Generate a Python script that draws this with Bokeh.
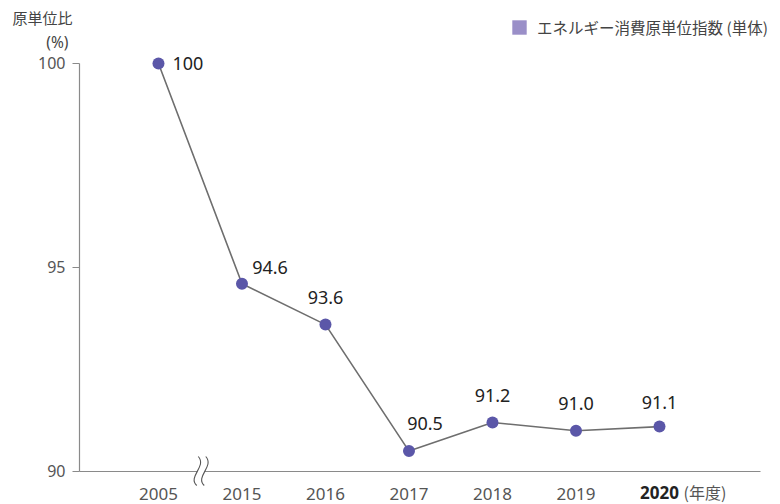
from bokeh.plotting import figure
from bokeh.models import Range1d, FixedTicker, Legend, LegendItem
from bokeh.embed import file_html
from bokeh.resources import INLINE
from bokeh.core.properties import value

# ---- data ----
years = ["2005", "2015", "2016", "2017", "2018", "2019", "2020"]
values = [100, 94.6, 93.6, 90.5, 91.2, 91.0, 91.1]
value_labels = ["100", "94.6", "93.6", "90.5", "91.2", "91.0", "91.1"]
y_ticks = [90, 95, 100]
legend_label = "エネルギー消費原単位指数 (単体)"
y_title = "原単位比"
y_unit = "(%)"
x_unit = "(年度)"
highlight_year = "2020"

xs = list(range(len(years)))
hi = years.index(highlight_year)

NUM_FONT = "Noto Sans"
JP_FONT = "Noto Sans CJK JP"

# ---- layout (frame fills the canvas, axes pinned in data space) ----
W, H = 780, 504
X_START, X_END = -1.892, 7.449
Y_START, Y_END = 89.191, 101.544
PX = (X_END - X_START) / W      # data units per pixel
PY = (Y_END - Y_START) / H
Y_AXIS_AT = -0.946              # x location of the y axis
X_AXIS_END = 7.21
Y_BASE = min(y_ticks)
Y_TOP = max(y_ticks)

# data-label offsets in pixels (first label sits to the right of its point)
label_dx = [14, 28, 0, 16, 0, 0, 0]
label_dy = [0, -16, -27, -28, -27, -27, -24]

p = figure(width=W, height=H, output_backend="svg", toolbar_location=None,
           x_range=Range1d(X_START, X_END), y_range=Range1d(Y_START, Y_END),
           min_border=0, min_border_left=0, min_border_right=0,
           min_border_top=0, min_border_bottom=0)
p.outline_line_color = None
p.grid.visible = False
p.border_fill_color = "white"
p.background_fill_color = "white"

AXIS_COLOR = "#8a8a8a"

# x axis
xa = p.xaxis[0]
xa.fixed_location = Y_BASE
xa.ticker = FixedTicker(ticks=xs)
xa.major_label_overrides = {i: ("" if y == highlight_year else y) for i, y in enumerate(years)}
xa.major_tick_line_color = None
xa.minor_tick_line_color = None
xa.axis_line_color = AXIS_COLOR
xa.axis_line_width = 1.2
xa.bounds = (Y_AXIS_AT, X_AXIS_END)
xa.major_label_text_font = NUM_FONT
xa.major_label_text_font_size = "17px"
xa.major_label_text_color = "#555555"
xa.major_label_standoff = 11

# y axis
ya = p.yaxis[0]
ya.fixed_location = Y_AXIS_AT
ya.ticker = FixedTicker(ticks=y_ticks)
ya.bounds = (Y_BASE, Y_TOP)
ya.major_tick_out = 7
ya.major_tick_in = 0
ya.minor_tick_line_color = None
ya.axis_line_color = AXIS_COLOR
ya.major_tick_line_color = AXIS_COLOR
ya.major_tick_line_width = 1.2
ya.axis_line_width = 1.2
ya.major_label_text_font = NUM_FONT
ya.major_label_text_font_size = "16px"
ya.major_label_text_color = "#555555"
ya.major_label_standoff = 7

# series
p.line(xs, values, line_color="#6e6e6e", line_width=1.6)
p.scatter(xs, values, size=12, fill_color="#5b57a8", line_color=None)

# data labels
p.text(x=xs[:1], y=values[:1], text=value_labels[:1], x_offset=label_dx[0],
       y_offset=label_dy[0], text_align="left", text_baseline="middle",
       text_font=value(NUM_FONT), text_font_size="18px", text_color="#222222")
p.text(x=xs[1:], y=values[1:], text=value_labels[1:], x_offset=label_dx[1:],
       y_offset=label_dy[1:], text_align="center", text_baseline="middle",
       text_font=value(NUM_FONT), text_font_size="18px", text_color="#222222")

# highlighted year + unit
p.text(x=[hi], y=[Y_BASE], text=[highlight_year], y_offset=21,
       text_align="center", text_baseline="middle",
       text_font=value(NUM_FONT), text_font_size="17px", text_font_style="bold",
       text_color="#222222")
p.text(x=[hi], y=[Y_BASE], text=[x_unit], y_offset=21, x_offset=24,
       text_align="left", text_baseline="middle",
       text_font=value(JP_FONT), text_font_size="16px", text_color="#555555")

# y title
p.text(x=[Y_AXIS_AT], y=[Y_TOP], text=[y_title], x_offset=-7, y_offset=-46,
       text_align="right", text_baseline="middle",
       text_font=value(JP_FONT), text_font_size="15px", text_color="#444444")
p.text(x=[Y_AXIS_AT], y=[Y_TOP], text=[y_unit], x_offset=-11, y_offset=-21,
       text_align="right", text_baseline="middle",
       text_font=value(NUM_FONT), text_font_size="15.5px", text_color="#444444")

# axis break mark: two thin S-waves drawn over the axis line, line blanked between
bx = (xs[0] + xs[1]) / 2 - 3 * PX
waves = [bx, bx + 7.5 * PX]
p.quad(left=[waves[0]], right=[waves[1]], top=[Y_BASE + 2 * PY], bottom=[Y_BASE - 2 * PY],
       fill_color="white", line_color=None, level="overlay")
p.bezier(x0=[w + 1 * PX for w in waves], y0=[Y_BASE + 15 * PY] * 2,
         x1=[w - 0.5 * PX for w in waves], y1=[Y_BASE - 14 * PY] * 2,
         cx0=[w + 10 * PX for w in waves], cy0=[Y_BASE + 5 * PY] * 2,
         cx1=[w - 10 * PX for w in waves], cy1=[Y_BASE - 5 * PY] * 2,
         line_color="#555555", line_width=1.1, level="overlay")

# legend
sq = p.quad(left=[float("nan")], right=[float("nan")], top=[float("nan")],
            bottom=[float("nan")], fill_color="#9a8fc8", line_color=None)
legend = Legend(items=[LegendItem(label=legend_label, renderers=[sq])],
                location=(510, 466), border_line_color=None, background_fill_alpha=0,
                margin=0, padding=0, label_text_font=JP_FONT,
                label_text_font_size="15.5px", label_text_color="#444444",
                glyph_width=18, glyph_height=18, label_standoff=9, label_height=18)
p.add_layout(legend)

open("out.html", "w").write(file_html(p, INLINE))
